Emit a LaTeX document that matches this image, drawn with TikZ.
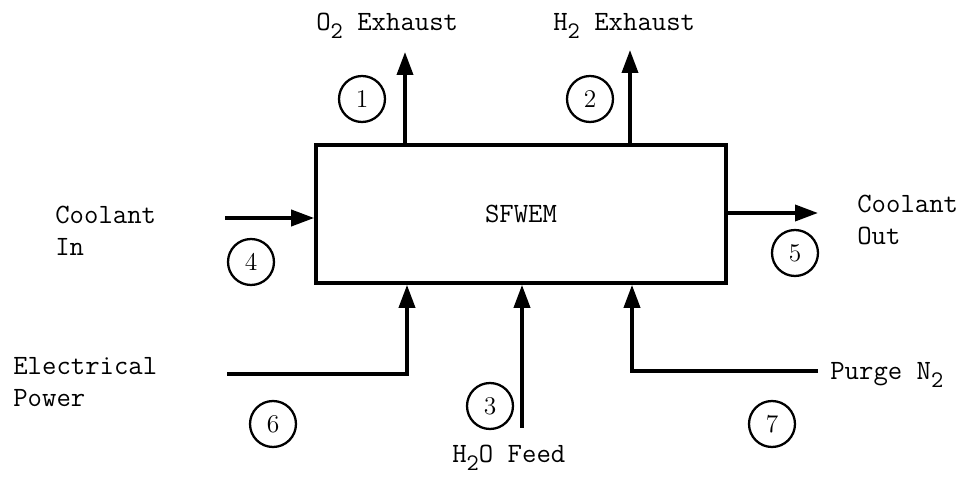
\documentclass[tikz,border=0pt]{standalone}
\usetikzlibrary{arrows.meta}
\newcommand{\lowidx}[1]{\raisebox{-0.6ex}{\fontsize{13.5}{14}\selectfont #1}}
\tikzset{
  unit/.style={draw,line width=2.1pt,minimum width=8.2cm,minimum height=2.76cm,
    inner sep=0pt,font=\fontsize{15.9}{18}\ttfamily},
  tag/.style={circle,draw,line width=1.3pt,minimum size=0.92cm,inner sep=0pt,
    font=\fontsize{14.5}{16}\selectfont},
  lbl/.style={inner sep=0pt,align=left,font=\fontsize{15.9}{18.2}\ttfamily},
  flow/.style={-{Triangle[length=0.46cm,width=0.32cm]},line width=2.1pt},
}

\begin{document}
\begin{tikzpicture}[x=0.02cm,y=-0.02cm]
  \useasboundingbox (0,0) rectangle (964,479);
  % electrolysis module
  \node[unit] (sfwem) at (521,214) {SFWEM};
  % stream ends
  \coordinate (o2) at (405,52); \coordinate (h2) at (630,50);
  \coordinate (cin) at (225,218); \coordinate (cout) at (818,213);
  \coordinate (ep) at (227,374); \coordinate (epk) at (407,374);
  \coordinate (h2o) at (522,428);
  \coordinate (pn) at (818,371); \coordinate (pnk) at (632,371);
  % streams
  \draw[flow] (o2 |- sfwem.north) -- (o2);
  \draw[flow] (h2 |- sfwem.north) -- (h2);
  \draw[flow] (cin) -- (cin -| sfwem.west);
  \draw[flow] (cout -| sfwem.east) -- (cout);
  \draw[flow] (ep) -- (epk) -- (epk |- sfwem.south);
  \draw[flow] (h2o) -- (h2o |- sfwem.south);
  \draw[flow] (pn) -- (pnk) -- (pnk |- sfwem.south);
  % stream numbers
  \node[tag] (n1) at (362,99) {1}; \node[tag] (n2) at (590,99) {2};
  \node[tag] (n3) at (490,406) {3}; \node[tag] (n4) at (251,262) {4};
  \node[tag] (n5) at (795,253) {5}; \node[tag] (n6) at (273,424) {6};
  \node[tag] (n7) at (772,424) {7};
  % labels
  \node[lbl,anchor=base west] (lo2) at (316,31) {O\lowidx{2} Exhaust};
  \node[lbl,anchor=base west] (lh2) at (553,31) {H\lowidx{2} Exhaust};
  \node[lbl,anchor=west] (lcin) at (55,231) {Coolant\\In};
  \node[lbl,anchor=west] (lcout) at (857,220) {Coolant\\Out};
  \node[lbl,anchor=west] (lep) at (13,382) {Electrical\\Power};
  \node[lbl,anchor=base west] (lpn) at (830,380) {Purge N\lowidx{2}};
  \node[lbl,anchor=base west] (lh2o) at (452,463) {H\lowidx{2}O Feed};
\end{tikzpicture}
\end{document}
